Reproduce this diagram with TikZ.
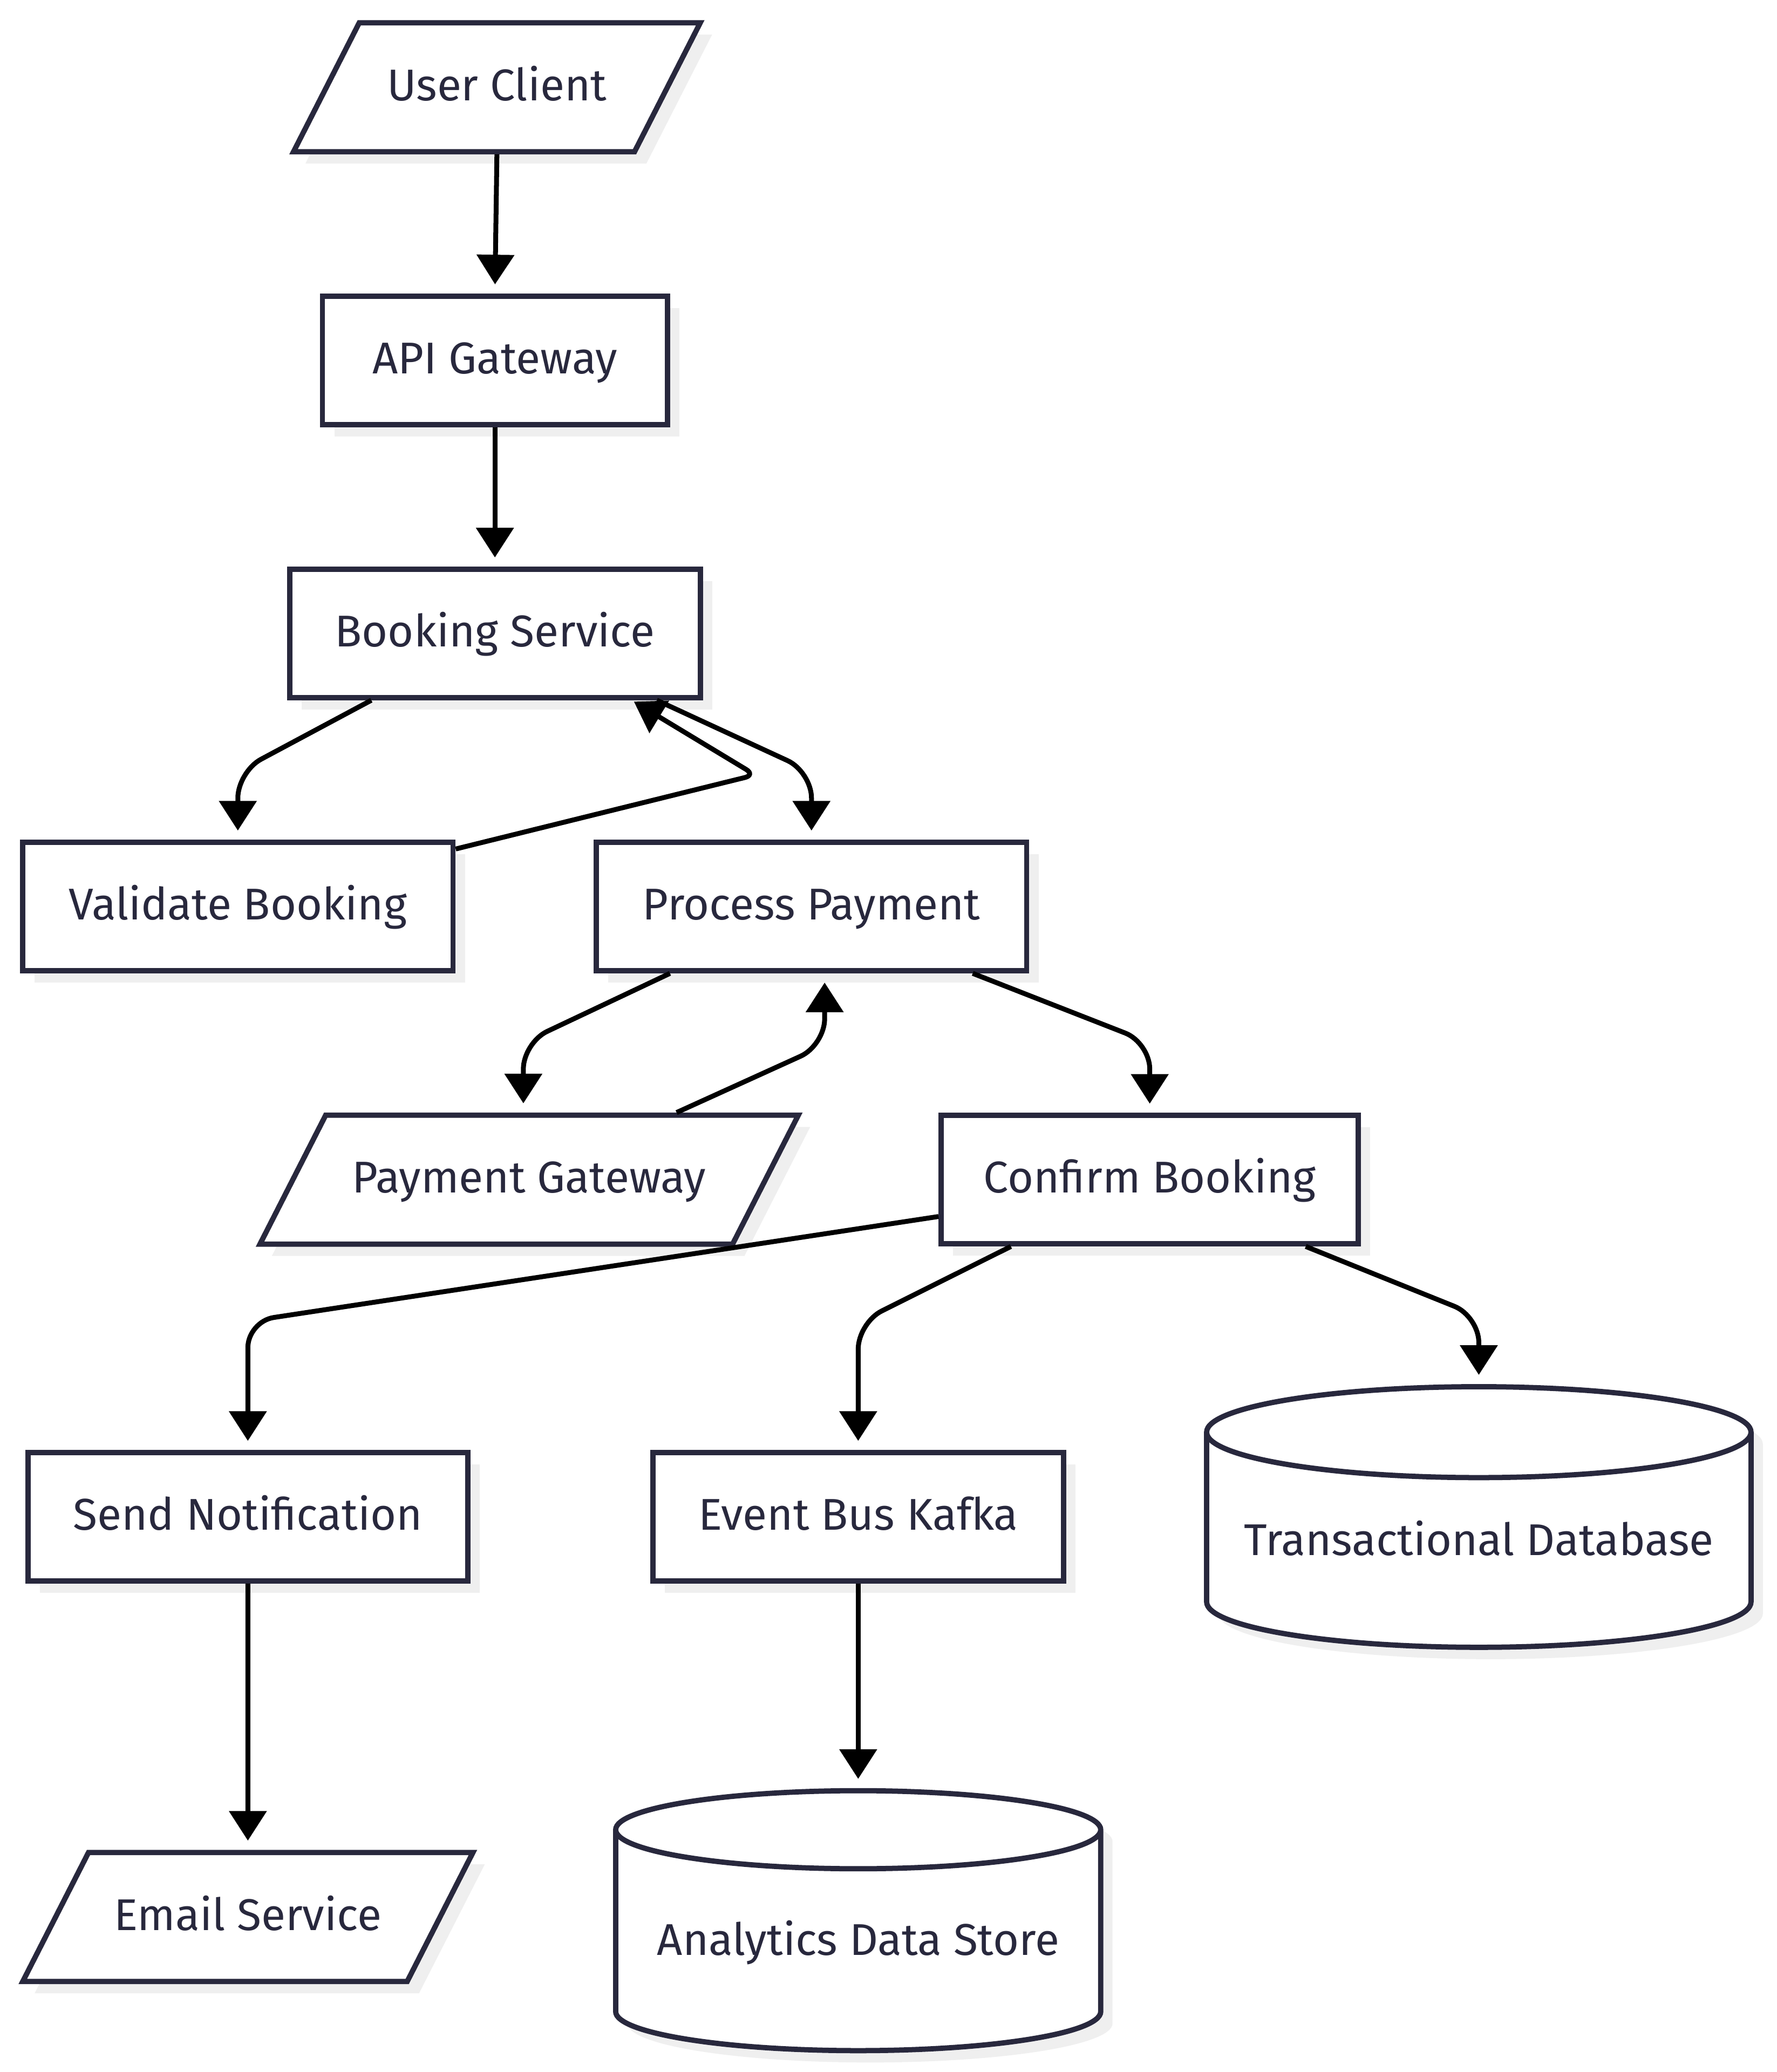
\documentclass[tikz,border=0pt]{standalone}
\usepackage{fontspec}
\setmainfont{Fira Sans}
\usetikzlibrary{positioning,shapes.geometric,shadows,arrows.meta}
\definecolor{ink}{HTML}{28283D}
\definecolor{shadowgray}{HTML}{EFEFEF}

\begin{document}
\begin{tikzpicture}[x=1pt, y=1pt, node distance=207.5pt, font=\fontsize{33.8}{40}\selectfont]
  \tikzstyle{base} = [draw=ink, line width=4pt, fill=white, text=ink, text height=27pt, text depth=6.8pt,
                      drop shadow={shadow xshift=9pt, shadow yshift=-9pt, fill=shadowgray, opacity=1}]
  \tikzstyle{box} = [base, rectangle, minimum height=97.5pt]
  \tikzstyle{io} = [base, trapezium, trapezium left angle=63, trapezium right angle=117,
                    inner ysep=32.1pt, trapezium stretches body=true]
  \tikzstyle{store} = [base, cylinder, shape border rotate=90, aspect=0.19, text height=22pt]
  \tikzstyle{line} = [draw=black, line width=3.7pt, -{Triangle[length=22.5pt, width=28pt]}, shorten >=7pt]

\useasboundingbox (0,0) rectangle (1350,-1574.3);

\node[io, minimum width=309pt] (uc) at (377.5,-66.3) {User Client};
\node[box, minimum width=262pt, below of=uc, xshift=-1.5pt] (api) {API Gateway};
\node[box, minimum width=312pt, below of=api] (bs) {Booking Service};
\node[box, minimum width=327pt, below of=bs, xshift=-195.3pt] (vb) {Validate Booking};
\node[box, minimum width=327pt, below of=bs, xshift=240.5pt] (pp) {Process Payment};
\node[io, minimum width=409pt, below of=pp, xshift=-214.5pt] (pg) {Payment Gateway};
\node[box, minimum width=317pt, below of=pp, xshift=257pt] (cb) {Confirm Booking};
\node[box, minimum width=334pt, below of=pg, xshift=-213.7pt, yshift=-48.7pt] (sn) {Send Notification};
\node[box, minimum width=312pt, below of=cb, xshift=-221.5pt, yshift=-48.7pt] (eb) {Event Bus Kafka};
\node[store, minimum width=413.6pt, minimum height=198pt, below of=cb, xshift=250pt, yshift=-48.8pt,
      anchor=shape center] (td) {Transactional Database};
\node[io, minimum width=342pt, below of=sn, yshift=-96.5pt] (em) {Email Service};
\node[store, minimum width=368.5pt, minimum height=197.5pt, below of=eb, yshift=-99.3pt,
      anchor=shape center] (ad) {Analytics Data Store};

% bends of the curved links
\coordinate (k1) at (180.7,-586.3);
\coordinate (k2) at (616.5,-586.3);
\coordinate (k3) at (573.8,-588.8);
\coordinate (k4) at (397.6,-792.2);
\coordinate (k5) at (626.5,-794.2);
\coordinate (k6) at (873.5,-792.2);
\coordinate (k7) at (188.3,-1004);
\coordinate (k8) at (652,-1005);
\coordinate (k9) at (1123.5,-1000);

\draw[line] (uc.south) -- (api.north);
\draw[line] (api.south) -- (bs.north);
\draw[line, rounded corners=20pt] ([xshift=-93.9pt]bs.south) -- (k1) -- (vb.north);
\draw[line, rounded corners=20pt] ([xshift=123pt]bs.south) -- (k2) -- (pp.north);
\draw[line, rounded corners=8pt, shorten >=2pt] ([yshift=-7pt]vb.north east) -- (k3) -- ([xshift=103.9pt]bs.south);
\draw[line, rounded corners=20pt] ([xshift=-107.5pt]pp.south) -- (k4) -- ([xshift=-4.4pt]pg.north);
\draw[line, rounded corners=20pt] ([xshift=112pt]pg.north) -- (k5) -- ([xshift=10pt]pp.south);
\draw[line, rounded corners=20pt] ([xshift=122.5pt]pp.south) -- (k6) -- (cb.north);
\draw[line, rounded corners=20pt] ([yshift=-28pt]cb.west) -- (k7) -- (sn.north);
\draw[line, rounded corners=20pt] ([xshift=-105.5pt]cb.south) -- (k8) -- (eb.north);
\draw[line, rounded corners=20pt] ([xshift=118.5pt]cb.south) -- (k9) -- (td.north);
\draw[line] (sn.south) -- (em.north);
\draw[line] (eb.south) -- (ad.north);
\end{tikzpicture}
\end{document}
